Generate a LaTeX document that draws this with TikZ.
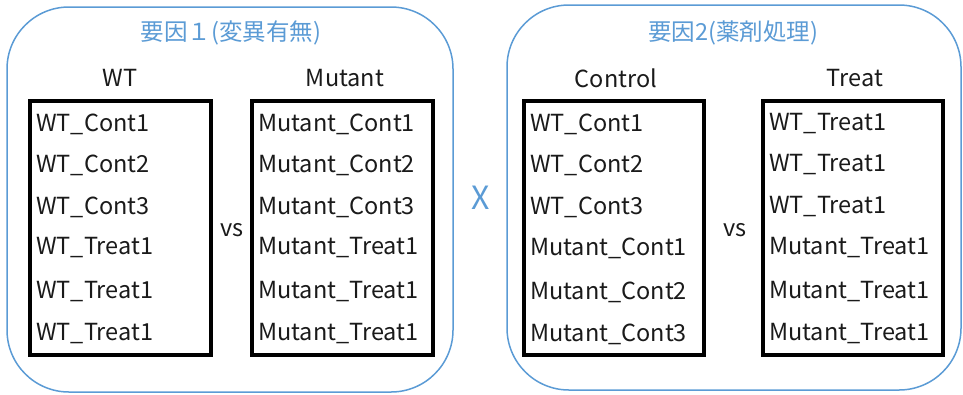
\documentclass[tikz,border=0pt]{standalone}
\usepackage{fontspec}
\setmainfont{Noto Sans CJK JP}
\definecolor{frameblue}{HTML}{5B9BD5}
\definecolor{txt}{HTML}{1A1A1A}
\begin{document}
\begin{tikzpicture}[x=1pt,y=-1pt,
  outer/.style={draw=frameblue,line width=1.5pt,rounded corners=62pt},
  listbox/.style={draw=black,line width=3.5pt},
  item/.style={anchor=west,font=\fontsize{23.5}{23.5}\selectfont,text=txt,inner sep=0pt},
  head/.style={font=\fontsize{23.5}{23.5}\selectfont,text=txt,inner sep=0pt},
  title/.style={font=\fontsize{23.5}{23.5}\selectfont,text=frameblue,inner sep=0pt}]
\useasboundingbox (0,0) rectangle (963,394);
\draw[outer] (7,7) rectangle (453,392);
\draw[outer] (507,5) rectangle (961,390);
\node[title] (t1) at (231,33) {要因１(変異有無)};
\node[title] (t2) at (733,33) {要因2(薬剤処理)};
\node[head] (h1) at (120,78) {WT};
\node[head] (h2) at (345,78) {Mutant};
\node[head] (h3) at (616,78) {Control};
\node[head] (h4) at (855,78) {Treat};
\draw[listbox] (30,101) rectangle (211,355);
\draw[listbox] (252,101) rectangle (433,355);
\draw[listbox] (524,101) rectangle (704,355);
\draw[listbox] (763,101) rectangle (943,355);
\foreach \y/\a/\b/\c/\d [count=\i] in {
  124/WT\_Cont1/Mutant\_Cont1/WT\_Cont1/WT\_Treat1,
  165/WT\_Cont2/Mutant\_Cont2/WT\_Cont2/WT\_Treat1,
  207/WT\_Cont3/Mutant\_Cont3/WT\_Cont3/WT\_Treat1,
  248/WT\_Treat1/Mutant\_Treat1/Mutant\_Cont1/Mutant\_Treat1,
  292/WT\_Treat1/Mutant\_Treat1/Mutant\_Cont2/Mutant\_Treat1,
  334/WT\_Treat1/Mutant\_Treat1/Mutant\_Cont3/Mutant\_Treat1}{
  \node[item] (a\i) at (36,\y) {\a};
  \node[item] (b\i) at (258,\y) {\b};
  \node[item] (c\i) at (530,\y) {\c};
  \node[item] (d\i) at (769,\y) {\d};
}
\node[head] (vs1) at (232,230) {vs};
\node[head] (vs2) at (735,230) {vs};
\node[font=\fontsize{32}{32}\selectfont,text=frameblue,inner sep=0pt] (x) at (481,198) {X};
\end{tikzpicture}
\end{document}
